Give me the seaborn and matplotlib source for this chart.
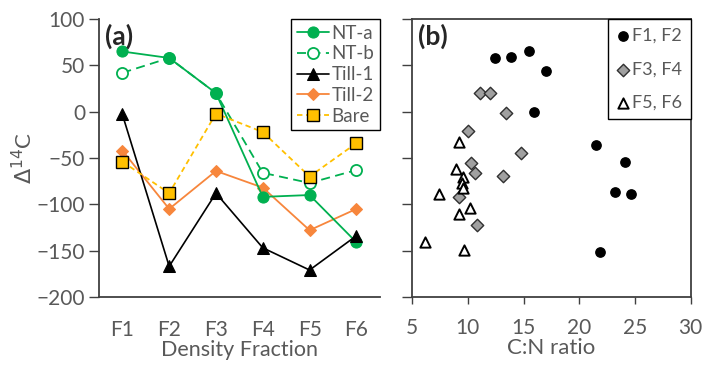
import matplotlib
matplotlib.use('Agg')
import matplotlib.pyplot as plt
import seaborn as sns
import pandas as pd

# --- data ---
fractions = ['F1', 'F2', 'F3', 'F4', 'F5', 'F6']
nt_a = [65, 58, 20, -92, -90, -141]
nt_b = [42, 58, 20, -66, -77, -63]
till_1 = [-3, -167, -88, -147, -171, -134]
till_2 = [-42, -105, -64, -82, -128, -105]
bare = [-54, -88, -2, -22, -70, -34]

# panel b: C:N ratio vs D14C, grouped by fraction pairs
cn_f12 = [12.4, 13.9, 15.5, 17.0, 15.9, 21.5, 24.1, 23.2, 24.6, 21.9]
d14_f12 = [58, 59, 66, 44, 0, -36, -54, -87, -89, -151]
cn_f34 = [11.1, 12.0, 13.4, 10.0, 14.8, 10.3, 10.6, 13.2, 9.2, 10.8]
d14_f34 = [20, 20, -1, -21, -45, -55, -66, -69, -92, -122]
cn_f56 = [9.2, 8.9, 9.6, 9.5, 9.6, 7.4, 9.2, 10.2, 6.2, 9.7]
d14_f56 = [-33, -62, -70, -77, -82, -89, -110, -104, -141, -149]

sns.set_style('white')
plt.rcParams['font.family'] = ['Lato', 'DejaVu Sans']
grey = '#595959'

fig = plt.figure(figsize=(7.02, 3.67), dpi=100)
ax1 = fig.add_axes([0.141, 0.191, 0.400, 0.757])
ax2 = fig.add_axes([0.587, 0.191, 0.397, 0.757])

green = '#00B050'
orange = '#F7863C'
yellow = '#FFC000'
pos = list(range(len(fractions)))

series = [
    ('NT-a', nt_a, dict(color=green, marker='o', markersize=8, markerfacecolor=green,
                        markeredgecolor=green, linestyle='-', linewidth=1.3, zorder=5)),
    ('NT-b', nt_b, dict(color=green, marker='o', markersize=8, markerfacecolor='white',
                        markeredgecolor=green, markeredgewidth=1.3, linestyle=(0, (5, 3)),
                        linewidth=1.3, zorder=3)),
    ('Till-1', till_1, dict(color='black', marker='^', markersize=8.5, markerfacecolor='black',
                            markeredgecolor='black', linestyle='-', linewidth=1.2, zorder=6)),
    ('Till-2', till_2, dict(color=orange, marker='D', markersize=6.5, markerfacecolor=orange,
                            markeredgecolor=orange, linestyle='-', linewidth=1.3, zorder=4)),
    ('Bare', bare, dict(color=yellow, marker='s', markersize=8, markerfacecolor=yellow,
                        markeredgecolor='black', markeredgewidth=1.0, linestyle=(0, (3, 2)),
                        linewidth=1.3, zorder=7)),
]
for name, vals, kw in series:
    sns.lineplot(x=pos, y=vals, ax=ax1, label=name, **kw)

ax1.set_xlim(-0.5, 5.5)
ax1.set_ylim(-200, 100)
ax1.set_yticks([-200, -150, -100, -50, 0, 50, 100])
ax1.set_xticks(pos)
ax1.set_xticklabels(fractions)
ax1.set_xlabel('Density Fraction', fontsize=15.5, color=grey, labelpad=0)
ax1.set_ylabel(r'$\Delta^{14}$C', fontsize=16, color=grey, labelpad=0)
ax1.tick_params(axis='y', which='both', left=True, length=7, width=1, color='#404040',
                labelsize=15, labelcolor=grey, direction='out', pad=3)
ax1.tick_params(axis='x', bottom=False, labelsize=15, labelcolor=grey, pad=13)
ax1.text(0.02, 0.985, '(a)', transform=ax1.transAxes, fontsize=19, fontweight='bold',
         va='top', ha='left', zorder=10)
for s in ax1.spines.values():
    s.set_color('#404040')
    s.set_linewidth(1.3)
for s in ['top', 'right']:
    ax1.spines[s].set_visible(False)
leg = ax1.legend(loc='upper right', bbox_to_anchor=(1.0, 1.0), fontsize=13.5, frameon=True,
                 fancybox=False, framealpha=1, edgecolor='black', handlelength=1.7,
                 handletextpad=0.15, borderpad=0.3, labelspacing=0.2, borderaxespad=0.0)
leg.get_frame().set_linewidth(1.0)
leg.set_zorder(20)
for t in leg.get_texts():
    t.set_color(grey)

# --- panel b ---
df_b = pd.concat([
    pd.DataFrame({'cn': cn_f12, 'd14': d14_f12, 'grp': 'F1, F2'}),
    pd.DataFrame({'cn': cn_f34, 'd14': d14_f34, 'grp': 'F3, F4'}),
    pd.DataFrame({'cn': cn_f56, 'd14': d14_f56, 'grp': 'F5, F6'}),
])
styles = {
    'F1, F2': dict(marker='o', s=45, color='black', edgecolor='black', linewidth=1),
    'F3, F4': dict(marker='D', s=40, color='#A0A0A0', edgecolor='#303030', linewidth=1),
    'F5, F6': dict(marker='^', s=55, color='white', edgecolor='black', linewidth=1.4),
}
for grp, kw in styles.items():
    sub = df_b[df_b['grp'] == grp]
    sns.scatterplot(data=sub, x='cn', y='d14', ax=ax2, label=grp, **kw)

ax2.set_xlim(5, 30)
ax2.set_ylim(-200, 100)
ax2.set_xticks([5, 10, 15, 20, 25, 30])
ax2.set_yticks([-200, -150, -100, -50, 0, 50, 100])
ax2.set_yticklabels([])
ax2.set_xlabel('C:N ratio', fontsize=16, color=grey, labelpad=0)
ax2.set_ylabel('')
ax2.tick_params(axis='y', left=True, length=7, width=1, color='#404040', direction='out')
ax2.tick_params(axis='x', bottom=True, length=5, width=1, color='#404040', direction='out',
                labelsize=15, labelcolor=grey, pad=10)
ax2.text(0.02, 0.985, '(b)', transform=ax2.transAxes, fontsize=19, fontweight='bold',
         va='top', ha='left')
for s in ax2.spines.values():
    s.set_color('#404040')
    s.set_linewidth(1.3)
leg2 = ax2.legend(loc='upper right', fontsize=13, frameon=True, fancybox=False, framealpha=1,
                  edgecolor='black', handlelength=0.6, handletextpad=0.2, borderpad=0.5,
                  labelspacing=0.95, borderaxespad=0.0)
leg2.get_frame().set_linewidth(1.0)
for t in leg2.get_texts():
    t.set_color(grey)

fig.savefig('out.png', dpi=100)
